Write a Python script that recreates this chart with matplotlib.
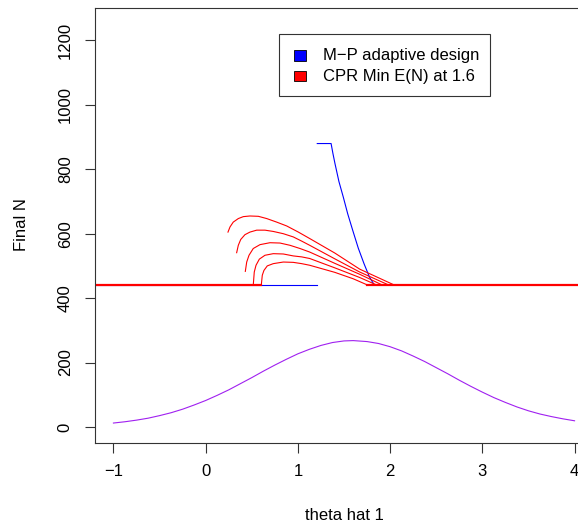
import matplotlib
matplotlib.use("Agg")
import matplotlib.pyplot as plt
from matplotlib.patches import Rectangle

plt.rcParams['font.family'] = ['Liberation Sans', 'DejaVu Sans']

# ---- data ----
x_ticks = [-1, 0, 1, 2, 3, 4]
y_ticks = [0, 200, 400, 600, 800, 1000, 1200]

# purple density-like curve
purple_theta = [-1.0, -0.875, -0.75, -0.625, -0.5, -0.375, -0.25, -0.125, 0.0, 0.125,
                0.25, 0.375, 0.5, 0.625, 0.75, 0.875, 1.0, 1.125, 1.25, 1.375, 1.5, 1.6,
                1.75, 1.875, 2.0, 2.125, 2.25, 2.375, 2.5, 2.625, 2.75, 2.875, 3.0,
                3.125, 3.25, 3.375, 3.5, 3.625, 3.75, 3.875, 4.0]
purple_n = [12, 16, 21, 27, 35, 44, 55, 68, 82, 98,
            115, 134, 153, 173, 192, 210, 227, 241, 253, 262, 267, 268,
            265, 259, 249, 236, 220, 203, 184, 165, 145, 126, 108,
            91, 76, 62, 50, 40, 32, 25, 19]

# blue: M-P adaptive design
blue_low_theta = [-1.5, 1.21]
blue_low_n = [440, 440]
blue_high_theta = [1.21, 1.36, 1.38, 1.402, 1.445, 1.492, 1.54, 1.594, 1.655, 1.717,
                   1.775, 1.83, 4.5]
blue_high_n = [880, 880, 849, 818, 762, 714, 662, 611, 555, 507, 466, 440, 440]

# red: CPR Min E(N) at 1.6 (five curves)
red_theta = [
    [0.242, 0.264, 0.299, 0.354, 0.408, 0.480, 0.571, 0.662, 0.770, 0.879, 1.005, 1.128,
     1.40, 1.67, 2.05],
    [0.336, 0.354, 0.380, 0.426, 0.480, 0.553, 0.643, 0.733, 0.842, 0.950, 1.041, 1.128,
     1.40, 1.67, 1.99],
    [0.430, 0.445, 0.470, 0.516, 0.589, 0.697, 0.806, 0.914, 1.023, 1.128,
     1.40, 1.67, 1.92],
    [0.516, 0.527, 0.546, 0.582, 0.643, 0.733, 0.842, 0.950, 1.041, 1.128,
     1.40, 1.67, 1.86],
    [0.603, 0.614, 0.632, 0.668, 0.733, 0.842, 0.950, 1.041, 1.128,
     1.40, 1.60, 1.76],
]
red_n = [
    [605, 621, 636, 647, 653, 655, 654, 647, 636, 624, 605, 585, 540, 490, 440],
    [541, 564, 582, 597, 605, 611, 611, 607, 600, 590, 577, 564, 522, 481, 440],
    [483, 512, 533, 554, 566, 572, 571, 564, 554, 543, 508, 474, 440],
    [440, 481, 502, 521, 533, 538, 537, 531, 528, 523, 494, 464, 440],
    [440, 471, 486, 500, 507, 512, 511, 507, 502, 480, 460, 440],
]
red_flat_left_theta = [-1.5, 0.603]
red_flat_right_theta = [1.746, 4.5]
red_flat_n = [440, 440]

legend_labels = ["M\u2212P adaptive design", "CPR Min E(N) at 1.6"]
legend_colors = ["#0000FF", "#FF0000"]

# ---- figure ----
W, H = 578, 525
fig = plt.figure(figsize=(W / 100, H / 100), dpi=100)
ax = fig.add_axes([95 / W, (H - 443) / H, (593 - 95) / W, (443 - 8.3) / H])
ax.set_xlim(-1.2, 4.2)
ax.set_ylim(-50, 1300)

lw = 0.8
ax.plot(purple_theta, purple_n, color="#A020F0", lw=lw)
ax.plot(blue_low_theta, blue_low_n, color="#0000FF", lw=lw)
ax.plot(blue_high_theta, blue_high_n, color="#0000FF", lw=lw)
for t, n in zip(red_theta, red_n):
    ax.plot(t, n, color="#FF0000", lw=lw)
ax.plot(red_flat_left_theta, red_flat_n, color="#FF0000", lw=1.6)
ax.plot(red_flat_right_theta, red_flat_n, color="#FF0000", lw=1.6)

ax.set_xticks(x_ticks)
ax.set_yticks(y_ticks)
ax.set_yticklabels([str(v) for v in y_ticks], rotation=90, va="center")
ax.tick_params(axis="both", length=7, width=0.8, labelsize=12, color="#333333")
ax.tick_params(axis="x", pad=8)
ax.tick_params(axis="y", pad=9)
for s in ax.spines.values():
    s.set_linewidth(0.8)
    s.set_color("#333333")

fig.text(22 / W, (H - 225) / H, "Final N", rotation=90, ha="center", va="center", fontsize=12)
fig.text(((205.7 + 297.8) / 2 + 93) / W, (H - 516) / H, "theta hat 1", ha="center", va="center", fontsize=12)

# legend drawn manually
fig.patches.append(Rectangle((279.3 / W, (H - 95.7) / H), (490 - 279.3) / W, (95.7 - 34) / H,
                             transform=fig.transFigure, facecolor="white", edgecolor="#333333",
                             lw=0.8, zorder=5))
rows_y = [55.7, 76.0]
for yc, lab, col in zip(rows_y, legend_labels, legend_colors):
    fig.patches.append(Rectangle((294.3 / W, (H - yc - 5.2) / H), 11.4 / W, 10.4 / H,
                                 transform=fig.transFigure, facecolor=col, edgecolor="black",
                                 lw=0.6, zorder=6))
    fig.text(322.7 / W, (H - yc) / H, lab, ha="left", va="center", fontsize=12, zorder=7)

fig.savefig("out.png", dpi=100)
